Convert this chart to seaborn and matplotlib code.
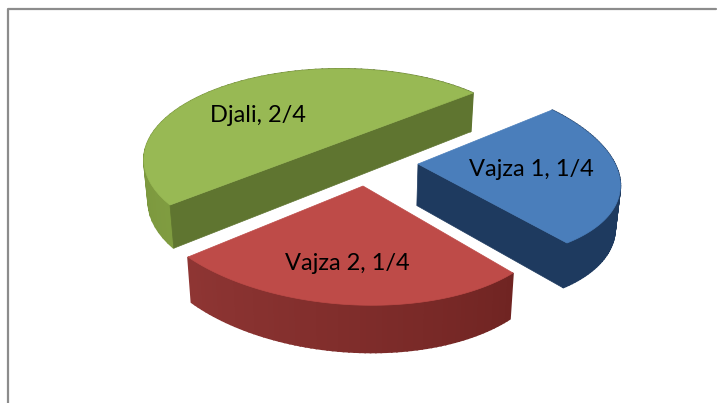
import numpy as np
import matplotlib
matplotlib.use("Agg")
import matplotlib.pyplot as plt
from matplotlib.patches import Polygon
from matplotlib.colors import to_rgb
import seaborn as sns

# data
categories = ["Vajza 1", "Vajza 2", "Djali"]
values = [1, 1, 2]
tick_labels = ["1/4", "1/4", "2/4"]

# styling
tops = ["#4a7ebb", "#be4b48", "#98b954"]
wall_from = ["#1e3a5f", "#702422", "#5f7530"]
wall_to = ["#1e3a5f", "#8e3533", "#7f9c40"]
flat_wall = ["#1e3a5f", None, "#5f7530"]
# pixel anchors: (fraction along the slice sweep or None for centre, x, y)
anchors = [
    [(None, 418, 164), (0, 552, 110), (0.5, 620, 180), (1, 567, 243)],
    [(None, 363, 186), (0, 513, 273), (0.5, 357, 305), (1, 188, 257)],
    [(0, 473, 93), (0.36, 330, 69), (0.72, 172, 113), (1, 170, 205)],
]
apex_px = [(418, 164), (363, 186), None]
label_pos = [(531.5, 169), (347, 263), (257.5, 115)]
W, H = 723, 403


def homography(src, dst):
    A, b = [], []
    for (x, y), (u, v) in zip(src, dst):
        A.append([x, y, 1, 0, 0, 0, -u * x, -u * y]); b.append(u)
        A.append([0, 0, 0, x, y, 1, -v * x, -v * y]); b.append(v)
    h = np.linalg.solve(np.array(A, float), np.array(b, float))
    return np.append(h, 1).reshape(3, 3)


def project(M, pts):
    p = np.c_[pts, np.ones(len(pts))] @ M.T
    return p[:, :2] / p[:, 2:]


def depth(p):
    p = np.asarray(p, float)
    return p + np.c_[(360 - p[:, 0]) * 0.02, 35 + 0.04 * p[:, 1]]


sns.set_theme(style="white")
plt.rcParams["font.family"] = ["Lato", "DejaVu Sans"]
fig = plt.figure(figsize=(W / 100, H / 100), dpi=100, facecolor="white")
ax = fig.add_axes([0, 0, 1, 1])
ax.set_xlim(0, W)
ax.set_ylim(H, 0)
ax.axis("off")

sns.lineplot(x=[7.5, 7.5, 716], y=[403, 8.5, 8.5], sort=False, ax=ax,
             color="#8c8c8c", linewidth=1.6, estimator=None)

fracs = np.cumsum([0] + values) / sum(values)
order = [2, 0, 1]
for i in order:
    a0, a1 = 2 * np.pi * fracs[i], 2 * np.pi * fracs[i + 1]

    def unit(f):
        f = np.asarray(f, float)
        t = a0 + (a1 - a0) * f
        return np.c_[np.sin(t), np.cos(t)]

    src, dst = [], []
    for f, x, y in anchors[i]:
        src.append((0, 0) if f is None else tuple(unit([f])[0]))
        dst.append((x, y))
    M = homography(src, dst)
    arc = project(M, unit(np.linspace(0, 1, 70)))
    low = depth(arc)
    c0, c1 = np.array(to_rgb(wall_from[i])), np.array(to_rgb(wall_to[i]))
    # curved wall
    for k in range(len(arc) - 1):
        c = c0 + (c1 - c0) * (k / (len(arc) - 2))
        ax.add_patch(Polygon([arc[k], arc[k + 1], low[k + 1], low[k]],
                             facecolor=c, edgecolor=c, linewidth=1.2, zorder=2 + i))
    # straight wall where it faces the viewer, then the top face
    if apex_px[i] is None:
        ring = arc
        p = np.array([arc[-1], arc[0]])
    else:
        ap = np.array([apex_px[i]], float)
        ring = np.r_[ap, arc]
        p = np.r_[ap, arc[-1:]]
    if flat_wall[i] is not None:
        q = depth(p)
        ax.add_patch(Polygon([p[0], p[1], q[1], q[0]], facecolor=flat_wall[i],
                             edgecolor=flat_wall[i], linewidth=0.5, zorder=2.3 + i))
    ax.add_patch(Polygon(ring, facecolor=tops[i], edgecolor=tops[i],
                         linewidth=0.5, zorder=2.6 + i))
    ax.text(*label_pos[i], f"{categories[i]}, {tick_labels[i]}", ha="center",
            va="center", fontsize=17, color="black", zorder=10)

fig.savefig("out.png", dpi=100, facecolor="white")
